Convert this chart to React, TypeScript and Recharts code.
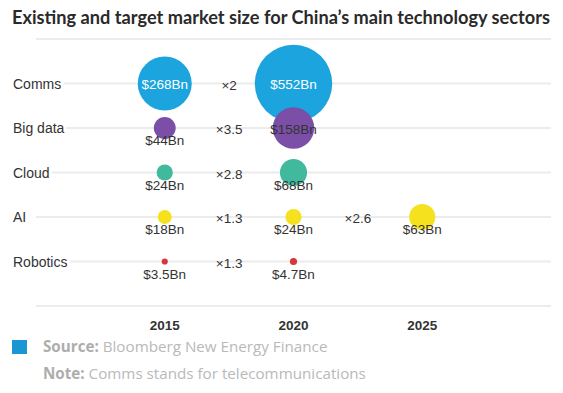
import React from "react";
import { CartesianGrid, Scatter, ScatterChart, XAxis, YAxis, ZAxis } from "recharts";

const sectors = ["Comms", "Big data", "Cloud", "AI", "Robotics"];
const years = [2015, 2020, 2025];
const size2015 = [268, 44, 24, 18, 3.5];
const size2020 = [552, 158, 68, 24, 4.7];
const size2025 = [null, null, null, 63, null];
const growthTo2020 = ["×2", "×3.5", "×2.8", "×1.3", "×1.3"];
const growthTo2025 = [null, null, null, "×2.6", null];

const colors = ["#1ba4de", "#7b4fa8", "#40b99d", "#f6e11f", "#d8363b"];
const TEXT = "#333333";

type Pt = { x: number; y: number; z?: number; text?: string };

const sectorData: Pt[][] = sectors.map((_, i) => {
  const vals = [size2015[i], size2020[i], size2025[i]];
  return years
    .map((yr, j) => ({ x: yr, y: i, z: vals[j] as number }))
    .filter((p) => p.z != null);
});

const growthData: Pt[] = [];
sectors.forEach((_, i) => {
  if (growthTo2020[i]) growthData.push({ x: (years[0] + years[1]) / 2, y: i, text: growthTo2020[i] as string });
  if (growthTo2025[i]) growthData.push({ x: (years[1] + years[2]) / 2, y: i, text: growthTo2025[i] as string });
});

const Bubble = (props: any) => {
  const { cx, cy, size, fill, payload } = props;
  if (cx == null || cy == null) return null;
  const r = Math.sqrt(Math.max(size || 0, 0) / Math.PI);
  const label = `$${payload.z}Bn`;
  const inside = r >= 18;
  const white = r >= 24;
  return (
    <g>
      <circle cx={cx} cy={cy} r={r} fill={fill} />
      <text
        x={cx}
        y={inside ? cy + 1 : cy + 12.5}
        textAnchor="middle"
        dominantBaseline="central"
        fontSize={13.5}
        fill={white ? "#ffffff" : TEXT}
        fontFamily="'Liberation Sans', Arial, sans-serif"
      >
        {label}
      </text>
    </g>
  );
};

const Growth = (props: any) => {
  const { cx, cy, payload } = props;
  if (cx == null || cy == null) return null;
  return (
    <text
      x={cx}
      y={cy + 1.5}
      textAnchor="middle"
      dominantBaseline="central"
      fontSize={13.5}
      fill={TEXT}
      fontFamily="'Liberation Sans', Arial, sans-serif"
    >
      {payload.text}
    </text>
  );
};

const RowTick = (props: any) => {
  const { y, payload } = props;
  const name = sectors[payload.value];
  if (name === undefined) return null;
  return (
    <text
      x={13}
      y={y}
      dominantBaseline="central"
      fontSize={14}
      fill={TEXT}
      stroke="#ffffff"
      strokeWidth={6}
      strokeLinejoin="round"
      paintOrder="stroke"
      fontFamily="'Liberation Sans', Arial, sans-serif"
    >
      {name}
    </text>
  );
};

const footStyle: React.CSSProperties = {
  position: "absolute",
  left: 43,
  fontFamily: "'Open Sans', sans-serif",
  fontSize: 15.2,
  lineHeight: "18px",
  color: "#b9b9b9",
  whiteSpace: "nowrap",
};

export default function App() {
  return (
    <div style={{ position: "absolute", left: 0, top: 0, width: 563, height: 393, background: "#fff" }}>
      <div
        style={{
          position: "absolute",
          left: 12,
          top: 5,
          fontFamily: "Lato, 'Open Sans', sans-serif",
          fontWeight: 700,
          fontSize: 18.2,
          lineHeight: "24px",
          color: "#2a2a2a",
          whiteSpace: "nowrap",
        }}
      >
        Existing and target market size for China’s main technology sectors
      </div>
      <ScatterChart width={563} height={393} margin={{ top: 39, right: 12, bottom: 57, left: 0 }}>
        <CartesianGrid vertical={false} stroke="#ececec" strokeWidth={2} />
        <XAxis
          type="number"
          dataKey="x"
          domain={[2010, 2030]}
          ticks={years}
          axisLine={false}
          tickLine={false}
          tickMargin={8}
          height={30}
          tick={{ fill: TEXT, fontSize: 13.5, fontWeight: 700, fontFamily: "'Liberation Sans', Arial, sans-serif" }}
        />
        <YAxis
          type="number"
          dataKey="y"
          domain={[-1, 5]}
          ticks={[-1, 0, 1, 2, 3, 4, 5]}
          reversed
          width={36}
          axisLine={false}
          tickLine={false}
          tick={<RowTick />}
        />
        <ZAxis type="number" dataKey="z" domain={[0, 600]} range={[0, 5125]} />
        {sectors.map((s, i) => (
          <Scatter key={s} name={s} data={sectorData[i]} fill={colors[i]} shape={<Bubble />} isAnimationActive={false} />
        ))}
        <Scatter name="growth" data={growthData} fill={TEXT} shape={<Growth />} isAnimationActive={false} />
      </ScatterChart>
      <div style={{ position: "absolute", left: 12, top: 340, width: 15, height: 14, background: "#1996d3" }} />
      <div style={{ ...footStyle, top: 337 }}>
        <b style={{ color: "#adadad" }}>Source:</b> Bloomberg New Energy Finance
      </div>
      <div style={{ ...footStyle, top: 364 }}>
        <b style={{ color: "#adadad" }}>Note:</b> Comms stands for telecommunications
      </div>
    </div>
  );
}
